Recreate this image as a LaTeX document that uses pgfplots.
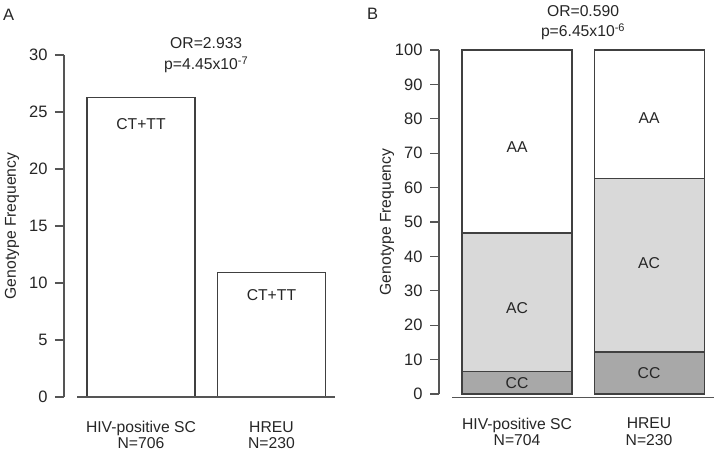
\documentclass[border=0pt]{standalone}
\usepackage{fontspec}
\setmainfont{Liberation Sans}
\usepackage{pgfplots}
\pgfplotsset{compat=1.18}

\definecolor{barline}{HTML}{404040}
\definecolor{axisc}{HTML}{555555}
\definecolor{txt}{HTML}{262626}
\definecolor{acfill}{HTML}{D9D9D9}
\definecolor{ccfill}{HTML}{A8A8A8}

\newcommand{\lbl}{\fontsize{15.7}{16.3}\selectfont}

\pgfplotsset{
  rstyle/.style={
    scale only axis,
    clip=false,
    axis y line*=left,
    axis x line*=bottom,
    x axis line style={draw=none},
    y axis line style={axisc, line width=1.1pt},
    ytick style={axisc, line width=1.1pt},
    xtick style={draw=none},
    tick align=outside,
    major tick length=9pt,
    xtick={1,2},
    /pgf/number format/assume math mode=true,
    tick label style={font=\fontsize{16.5}{18}\selectfont, text=txt},
    yticklabel style={xshift=-4pt},
    xticklabel style={font=\lbl, align=center, inner sep=0pt, anchor=north, yshift=-15pt},
    ylabel={Genotype Frequency},
    every axis y label/.style={at={(axis description cs:0,0.5)}, xshift=-52pt, rotate=90,
      anchor=center, font=\lbl, text=txt},
  },
}

\begin{document}
\begin{tikzpicture}[x=1pt,y=1pt]
\useasboundingbox (0,0) rectangle (720,457);

% panel labels
\node[anchor=base west, inner sep=0pt, font=\fontsize{16.5}{18}\selectfont, text=txt] at (3,436) {A};
\node[anchor=base west, inner sep=0pt, font=\fontsize{16.5}{18}\selectfont, text=txt] at (367,437) {B};

% ---- panel A
\begin{axis}[rstyle,
  at={(64pt,60pt)}, anchor=south west,
  width=271pt, height=342pt,
  xmin=0.41, xmax=2.487, ymin=0, ymax=30,
  ytick={0,5,...,30},
  xticklabels={{HIV-positive SC\\N=706},{HREU\\N=230}},
]
\addplot[ybar, bar width=108pt, fill=white, draw=barline, line width=1.1pt]
  coordinates {(1,26.3) (2,10.9)};
\draw[axisc, line width=1.1pt] (axis cs:0.51,0) -- (axis cs:2.487,0);
\node[anchor=base, font=\lbl, text=txt] at (axis cs:1,23.5) {CT+TT};
\node[anchor=base, font=\lbl, text=txt] at (axis cs:2,8.5) {CT+TT};
\node[anchor=base, font=\lbl, text=txt, yshift=6pt] at (axis cs:1.5,30) {OR=2.933};
\node[anchor=base, font=\lbl, text=txt, yshift=-15pt] at (axis cs:1.5,30) {p=4.45x10\textsuperscript{-7}};
\end{axis}

% ---- panel B (cumulative tops: AA to 100, AC to CC+AC, CC)
\begin{axis}[rstyle,
  at={(439pt,63pt)}, anchor=south west,
  width=275pt, height=344pt,
  xmin=0.409, xmax=2.492, ymin=0, ymax=100,
  ytick={0,10,...,100},
  xticklabels={{HIV-positive SC\\N=704},{HREU\\N=230}},
]
\addplot[ybar, bar width=110pt, fill=white, draw=barline, line width=1.1pt] coordinates {(1,100) (2,100)};
\addplot[ybar, bar width=110pt, fill=acfill, draw=barline, line width=1.1pt] coordinates {(1,46.8) (2,62.7)};
\addplot[ybar, bar width=110pt, fill=ccfill, draw=barline, line width=1.1pt] coordinates {(1,6.5) (2,12.2)};
\draw[axisc, line width=1.1pt] (axis cs:0.508,-0.9) -- (axis cs:2.492,-0.9);
\node[anchor=base, font=\lbl, text=txt] at (axis cs:1,70.3) {AA};
\node[anchor=base, font=\lbl, text=txt] at (axis cs:1,23.3) {AC};
\node[anchor=base, font=\lbl, text=txt] at (axis cs:1,1.5) {CC};
\node[anchor=base, font=\lbl, text=txt] at (axis cs:2,78.5) {AA};
\node[anchor=base, font=\lbl, text=txt] at (axis cs:2,36.6) {AC};
\node[anchor=base, font=\lbl, text=txt] at (axis cs:2,4.4) {CC};
\node[anchor=base, font=\lbl, text=txt, yshift=33pt] at (axis cs:1.5,100) {OR=0.590};
\node[anchor=base, font=\lbl, text=txt, yshift=13pt] at (axis cs:1.5,100) {p=6.45x10\textsuperscript{-6}};
\end{axis}
\end{tikzpicture}
\end{document}
